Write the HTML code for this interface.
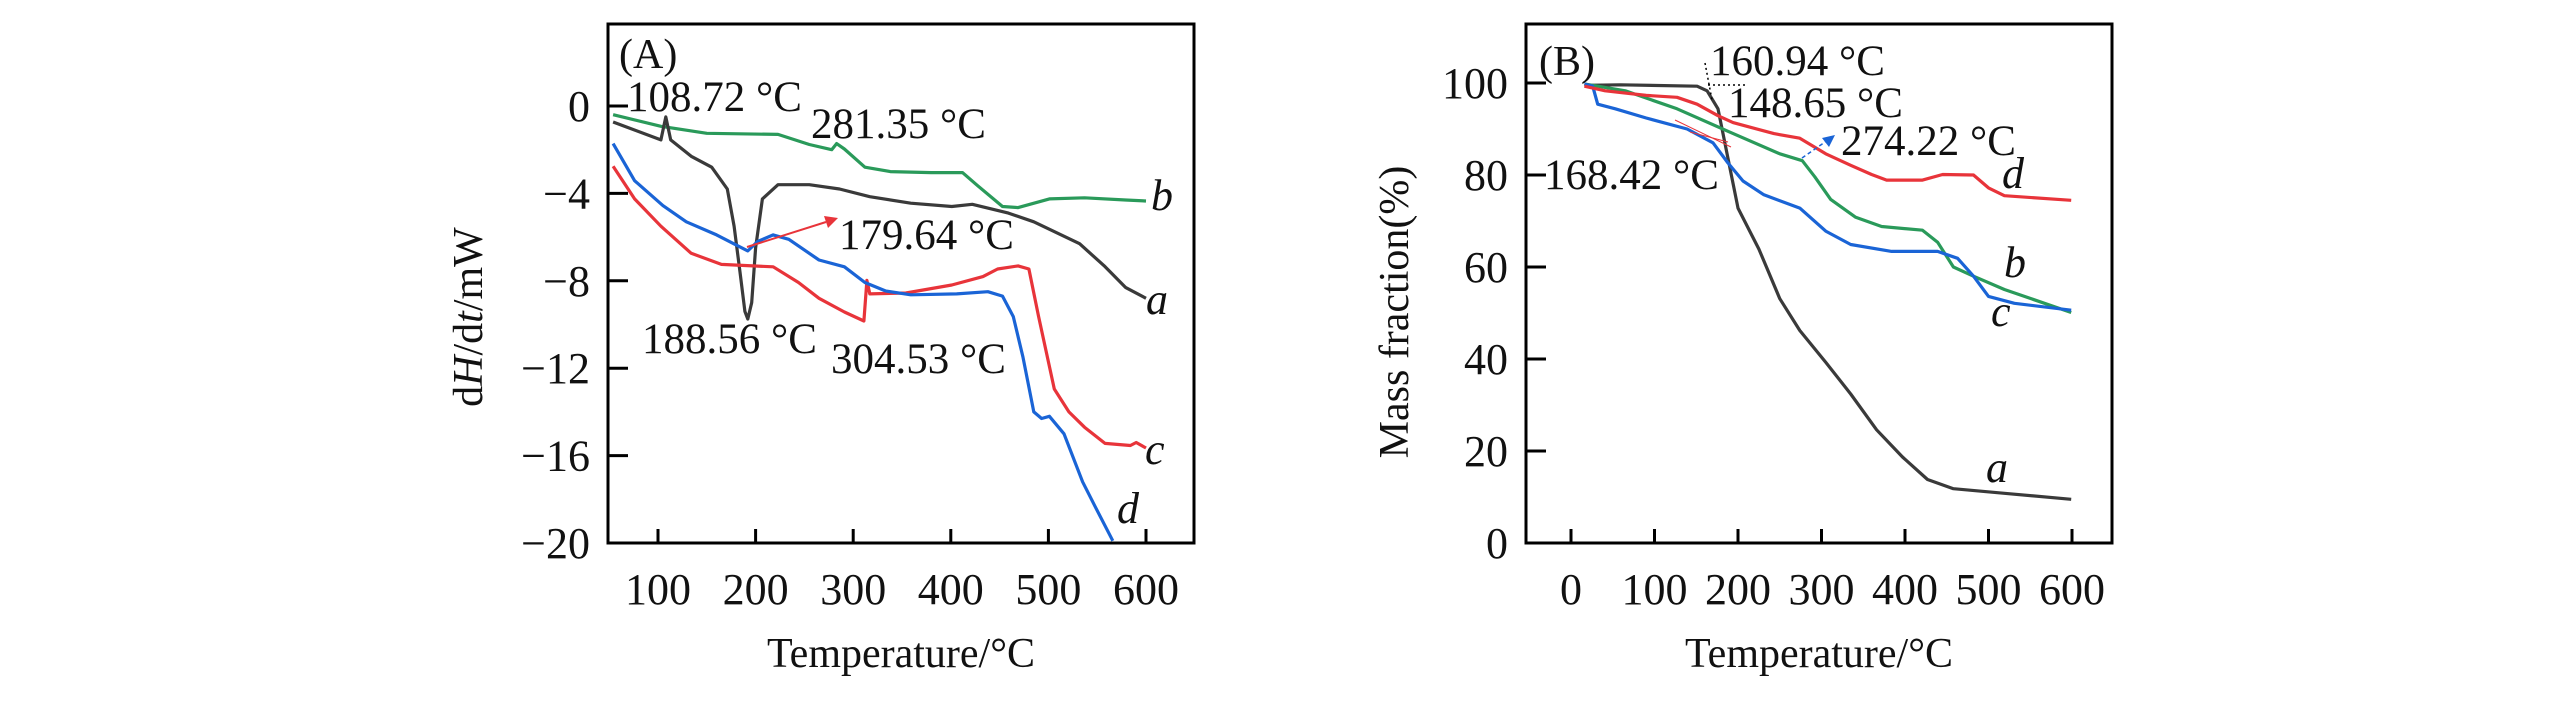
<!DOCTYPE html>
<html><head><meta charset="utf-8"><style>
html,body{margin:0;padding:0;background:#fff;}
svg{display:block;font-family:"Liberation Serif",serif;}
text{fill:#111;}
</style></head><body>
<svg id="fig" width="2567" height="709" viewBox="0 0 2567 709"></svg>
<script>
// ---------- Panel A data (DSC) ----------
const aT=[54,103,108,113,134,155,171,178,184,189,192,196,200,207,223,255,286,317,359,401,422,459,485,532,558,579,600];
const aV=[-0.73,-1.55,-0.5,-1.55,-2.3,-2.8,-3.8,-5.5,-7.6,-9.4,-9.75,-9.0,-6.5,-4.25,-3.6,-3.6,-3.8,-4.15,-4.45,-4.6,-4.5,-4.9,-5.3,-6.3,-7.35,-8.3,-8.8];
const bT=[54,103,150,223,255,278,283,291,312,338,380,412,427,453,469,501,537,579,600];
const bV=[-0.4,-0.93,-1.25,-1.3,-1.76,-2.0,-1.72,-1.97,-2.8,-3.0,-3.05,-3.05,-3.63,-4.6,-4.65,-4.25,-4.2,-4.3,-4.35];
const cT=[54,76,103,134,165,197,218,244,265,291,311,314,317,354,401,433,448,469,480,490,506,521,537,558,584,590,600];
const cV=[-2.76,-4.25,-5.5,-6.74,-7.25,-7.32,-7.36,-8.08,-8.8,-9.43,-9.84,-7.98,-8.6,-8.56,-8.19,-7.81,-7.46,-7.32,-7.46,-9.64,-12.95,-14.0,-14.7,-15.44,-15.54,-15.4,-15.65];
const dT=[54,76,105,129,160,192,202,218,234,265,291,312,333,359,406,438,453,464,474,485,493,501,516,535,548,566];
const dV=[-1.72,-3.42,-4.56,-5.3,-5.9,-6.63,-6.2,-5.9,-6.1,-7.05,-7.36,-8.08,-8.46,-8.64,-8.6,-8.5,-8.7,-9.64,-11.5,-14.0,-14.3,-14.2,-15.0,-17.2,-18.34,-19.9];
const aXTicks=[100,200,300,400,500,600];
const aYTicks=[0,-4,-8,-12,-16,-20];
// ---------- Panel B data (TG) ----------
const gaT=[16,59,151,163,176,188,200,225,250,274,305,335,366,397,427,458,519,599];
const gaV=[99.5,99.6,99.3,98.3,94.4,83.6,72.8,63.9,53.1,46.2,39.3,32.4,24.6,18.7,13.8,11.8,10.8,9.5];
const gbT=[16,65,127,188,250,277,292,311,341,372,421,439,458,482,519,599];
const gbV=[99.8,98.3,94.4,89.5,84.6,83.1,79.6,74.7,70.8,68.8,68.0,65.4,60.0,58.0,55.1,50.1];
const gcT=[16,26,32,53,90,139,170,188,206,231,274,305,335,384,439,463,482,500,531,599];
const gcV=[99.8,99.3,95.4,94.4,92.4,90.0,87.0,82.6,78.7,75.7,72.8,67.8,64.9,63.4,63.4,61.9,58.0,53.6,52.1,50.6];
const gdT=[16,41,90,127,151,176,194,243,274,305,335,360,378,421,445,482,500,519,599];
const gdV=[99.3,98.3,97.3,96.9,95.4,92.9,91.4,89.0,88.0,84.6,82.1,80.1,78.9,78.9,80.1,80.0,77.2,75.5,74.5];
const bXTicks=[0,100,200,300,400,500,600];
const bYTicks=[0,20,40,60,80,100];

const NS="http://www.w3.org/2000/svg";
const svg=document.getElementById('fig');
function el(tag,attrs,parent){const e=document.createElementNS(NS,tag);for(const k in attrs)e.setAttribute(k,attrs[k]);(parent||svg).appendChild(e);return e;}
function txt(s,x,y,size,parent,anchor,style){const t=el('text',{x:x,y:y,'font-size':size,'text-anchor':anchor||'start'},parent);if(style)t.setAttribute('font-style',style);t.textContent=s;return t;}

// Panel A axes
const A={L:608,R:1194,T:24,B:543};
const axA=t=>658+(t-100)*(1146-658)/500;
const ayA=v=>106+(0-v)*(543-106)/20;
// Panel B axes
const B={L:1526,R:2112,T:24,B:543};
const axB=t=>1571+t*(2072-1571)/600;
const ayB=v=>543-v*(543-83)/100;

function panel(P,ax,ay,xt,yt,name,ytitle,ytx,yty){
  const g=el('g',{});
  
  
  const r=el('rect',{x:P.L,y:P.T,width:P.R-P.L,height:P.B-P.T,fill:'none',stroke:'#000','stroke-width':3},g);
  
  
  xt.forEach(t=>{
    const x=ax(t);
    const l=el('line',{x1:x,x2:x,y1:P.B,y2:P.B-14,stroke:'#000','stroke-width':3},g);
    
    
    const lb=txt(String(t),x,604,44,g,'middle');
    
    
  });
  yt.forEach(v=>{
    const y=ay(v);
    const l=el('line',{x1:P.L,x2:P.L+20,y1:y,y2:y,stroke:'#000','stroke-width':3},g);
    
    
    const lb=txt(String(v).replace('-','\u2212'),P.L-18,y+15,44,g,'end');
    
    
  });
  const xtl=txt('Temperature/\u00B0C',(P.L+P.R)/2,667,42,g,'middle');
  
  
  const ytl=el('text',{x:0,y:0,'font-size':42,'text-anchor':'middle',transform:`translate(${ytx},${yty}) rotate(-90)`},g);
  ytl.innerHTML=ytitle;
  
  
  return g;
}
const gA=panel(A,axA,ayA,aXTicks,aYTicks,'panel-a-dsc','d<tspan font-style="italic">H</tspan>/d<tspan font-style="italic">t</tspan>/mW',482,317);
const gB=panel(B,axB,ayB,bXTicks,bYTicks,'panel-b-tg','Mass fraction(%)',1408,312);

function series(T,V,ax,ay,color,name,parent){
  const d=T.map((t,i)=>(i?'L':'M')+ax(t).toFixed(1)+' '+ay(V[i]).toFixed(1)).join(' ');
  const p=el('path',{d:d,fill:'none',stroke:color,'stroke-width':3.2,'stroke-linejoin':'round'},parent);
  
  
}
const K='#3a3a3a',G='#2a9a5a',R='#e8343a',U='#1a64d6';
series(bT,bV,axA,ayA,G,'dsc-curve-b',gA);
series(aT,aV,axA,ayA,K,'dsc-curve-a',gA);
series(cT,cV,axA,ayA,R,'dsc-curve-c',gA);
series(dT,dV,axA,ayA,U,'dsc-curve-d',gA);
series(gaT,gaV,axB,ayB,K,'tg-curve-a',gB);
series(gbT,gbV,axB,ayB,G,'tg-curve-b',gB);
series(gcT,gcV,axB,ayB,U,'tg-curve-c',gB);
series(gdT,gdV,axB,ayB,R,'tg-curve-d',gB);

function label(s,x,y,size,parent,name,style){const t=txt(s,x,y,size,parent,'start',style);
  
  }
// Panel A annotations
label('(A)',619,68,42,gA,'panel-a-label');
label('108.72 \u00B0C',627,111,43,gA,'annotation-108');
label('281.35 \u00B0C',811,138,43,gA,'annotation-281');
label('179.64 \u00B0C',839,249,43,gA,'annotation-179');
label('188.56 \u00B0C',642,353,43,gA,'annotation-188');
label('304.53 \u00B0C',831,373,43,gA,'annotation-304');
label('b',1151,210,44,gA,'curve-label-b','italic');
label('a',1146,314,44,gA,'curve-label-a','italic');
label('c',1145,464,44,gA,'curve-label-c','italic');
label('d',1117,523,44,gA,'curve-label-d','italic');
const arr=el('line',{x1:747,y1:247,x2:826,y2:222,stroke:R,'stroke-width':2},gA);


const ah=el('polygon',{points:'838,218 824,216 828,228',fill:R},gA);


// Panel B annotations
label('(B)',1539,75,42,gB,'panel-b-label');
label('160.94 \u00B0C',1710,75,43,gB,'annotation-160');
label('148.65 \u00B0C',1728,117,43,gB,'annotation-148');
label('274.22 \u00B0C',1841,155,43,gB,'annotation-274');
label('168.42 \u00B0C',1544,189,43,gB,'annotation-168');
label('d',2002,188,44,gB,'curve-label-d','italic');
label('b',2004,277,44,gB,'curve-label-b','italic');
label('c',1991,326,44,gB,'curve-label-c','italic');
label('a',1986,482,44,gB,'curve-label-a','italic');
const d1=el('line',{x1:1708,y1:85,x2:1746,y2:85,stroke:'#000','stroke-width':1.5,'stroke-dasharray':'2,3'},gB);


const d2=el('line',{x1:1705,y1:63,x2:1712,y2:100,stroke:'#000','stroke-width':1.5,'stroke-dasharray':'2,3'},gB);


const r1=el('line',{x1:1675,y1:120,x2:1731,y2:147,stroke:R,'stroke-width':1},gB);


const r2=el('line',{x1:1690,y1:132,x2:1728,y2:142,stroke:R,'stroke-width':1},gB);


const ba=el('line',{x1:1802,y1:158,x2:1828,y2:140,stroke:U,'stroke-width':1.5,'stroke-dasharray':'4,3'},gB);


const bh=el('polygon',{points:'1835,135 1822,138 1829,147',fill:U},gB);


</script>
</body></html>
